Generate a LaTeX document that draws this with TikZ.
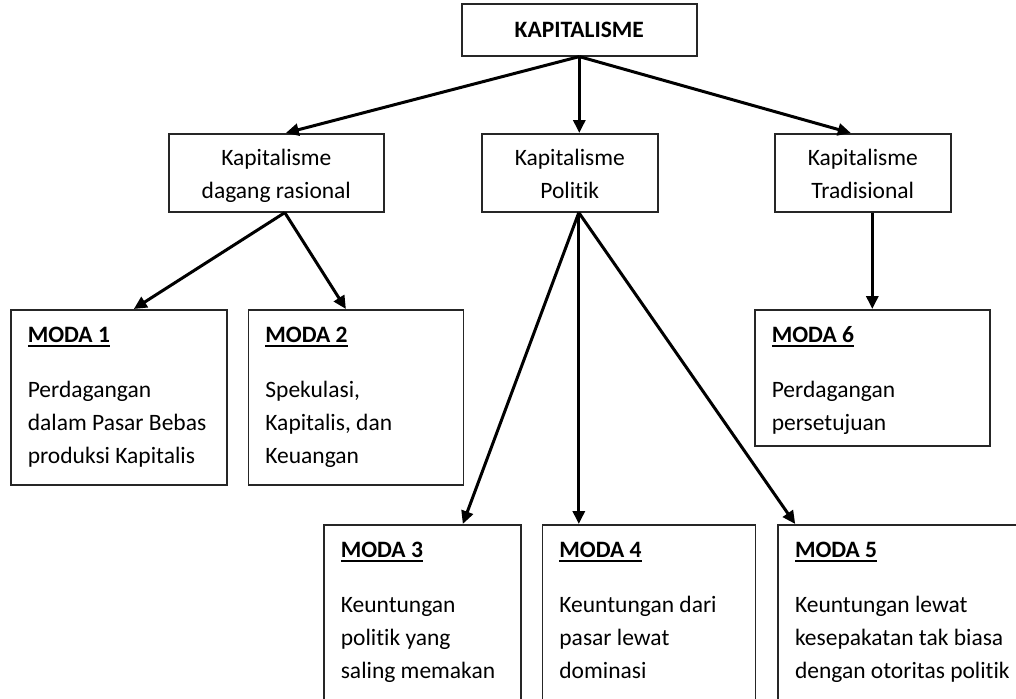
\documentclass[tikz,border=0pt]{standalone}
\usepackage{fontspec}
\setmainfont{Carlito}[Ligatures=NoCommon]
\usepackage{tikz}
\usetikzlibrary{positioning, arrows.meta}
\newsavebox{\judulbox}
\newcommand{\judul}[1]{\sbox{\judulbox}{\textbf{#1}}%
  \rlap{\rule[-4pt]{\wd\judulbox}{1.6pt}}\usebox{\judulbox}}

\begin{document}
\begin{tikzpicture}[
  x=1pt, y=-1pt,
  kotak/.style={draw=black!85, line width=1.6pt, inner sep=0pt,
                font=\fontsize{23.5}{33}\selectfont},
  jenis/.style={kotak, align=center, minimum width=176pt, text height=52pt,
                text depth=0pt, minimum height=78pt, anchor=north west},
  modabox/.style={kotak, align=flush left, inner xsep=17pt, text height=16pt,
                  text depth=125pt, minimum height=175pt, anchor=north west},
  panah/.style={-{Triangle[length=13pt, width=12pt]}, line width=3pt},
  node distance=20pt and 20pt]
\useasboundingbox (0,0) rectangle (1016,698);
\clip (0,0) rectangle (1016,698);
% puncak
\node[kotak, minimum width=235pt, minimum height=52pt, anchor=north west]
  (atas) at (461,3) {\textbf{KAPITALISME}};
% tiga jenis kapitalisme
\node[jenis, minimum width=215pt] (dagang) at (168,133) {Kapitalisme\\dagang rasional};
\node[jenis] (politik) at (481,133) {Kapitalisme\\Politik};
\node[jenis] (tradisi) at (774,133) {Kapitalisme\\Tradisional};
% moda
\node[modabox, text width=182pt] (moda1) at (10,309)
  {\judul{MODA 1}\\[22pt]Perdagangan\\\mbox{dalam Pasar Bebas}\\produksi Kapitalis};
\node[modabox, text width=181pt, right=of moda1] (moda2)
  {\judul{MODA 2}\\[22pt]Spekulasi,\\Kapitalis, dan\\Keuangan};
\node[modabox, text width=201pt, minimum height=136pt, text depth=86pt]
  (moda6) at (754,309)
  {\judul{MODA 6}\\[22pt]Perdagangan\\persetujuan};
\node[modabox, text width=163pt] (moda3) at (323,524)
  {\judul{MODA 3}\\[22pt]Keuntungan\\politik yang\\saling memakan};
\node[modabox, text width=179pt, right=of moda3] (moda4)
  {\judul{MODA 4}\\[22pt]Keuntungan dari\\pasar lewat\\dominasi};
\node[modabox, text width=226pt, right=21pt of moda4] (moda5)
  {\judul{MODA 5}\\[22pt]Keuntungan lewat\\kesepakatan tak biasa\\dengan otoritas politik};
% panah
\draw[panah] (atas.south) -- ([xshift=9.5pt]dagang.north);
\draw[panah] (atas.south) -- (atas.south |- politik.north);
\draw[panah] (atas.south) -- ([xshift=-12pt]tradisi.north);
\draw[panah] ([xshift=8.5pt]dagang.south) -- ([xshift=15pt]moda1.north);
\draw[panah] ([xshift=8.5pt]dagang.south) -- ([xshift=-10pt]moda2.north);
\draw[panah] ([xshift=9pt]politik.south) -- ([xshift=40.5pt]moda3.north);
\draw[panah] ([xshift=9pt]politik.south) -- ([xshift=9pt]politik.south |- moda4.north);
\draw[panah] ([xshift=9pt]politik.south) -- ([xshift=18pt]moda5.north west);
\draw[panah] (tradisi.south -| moda6.north) -- (moda6.north);
\end{tikzpicture}
\end{document}
